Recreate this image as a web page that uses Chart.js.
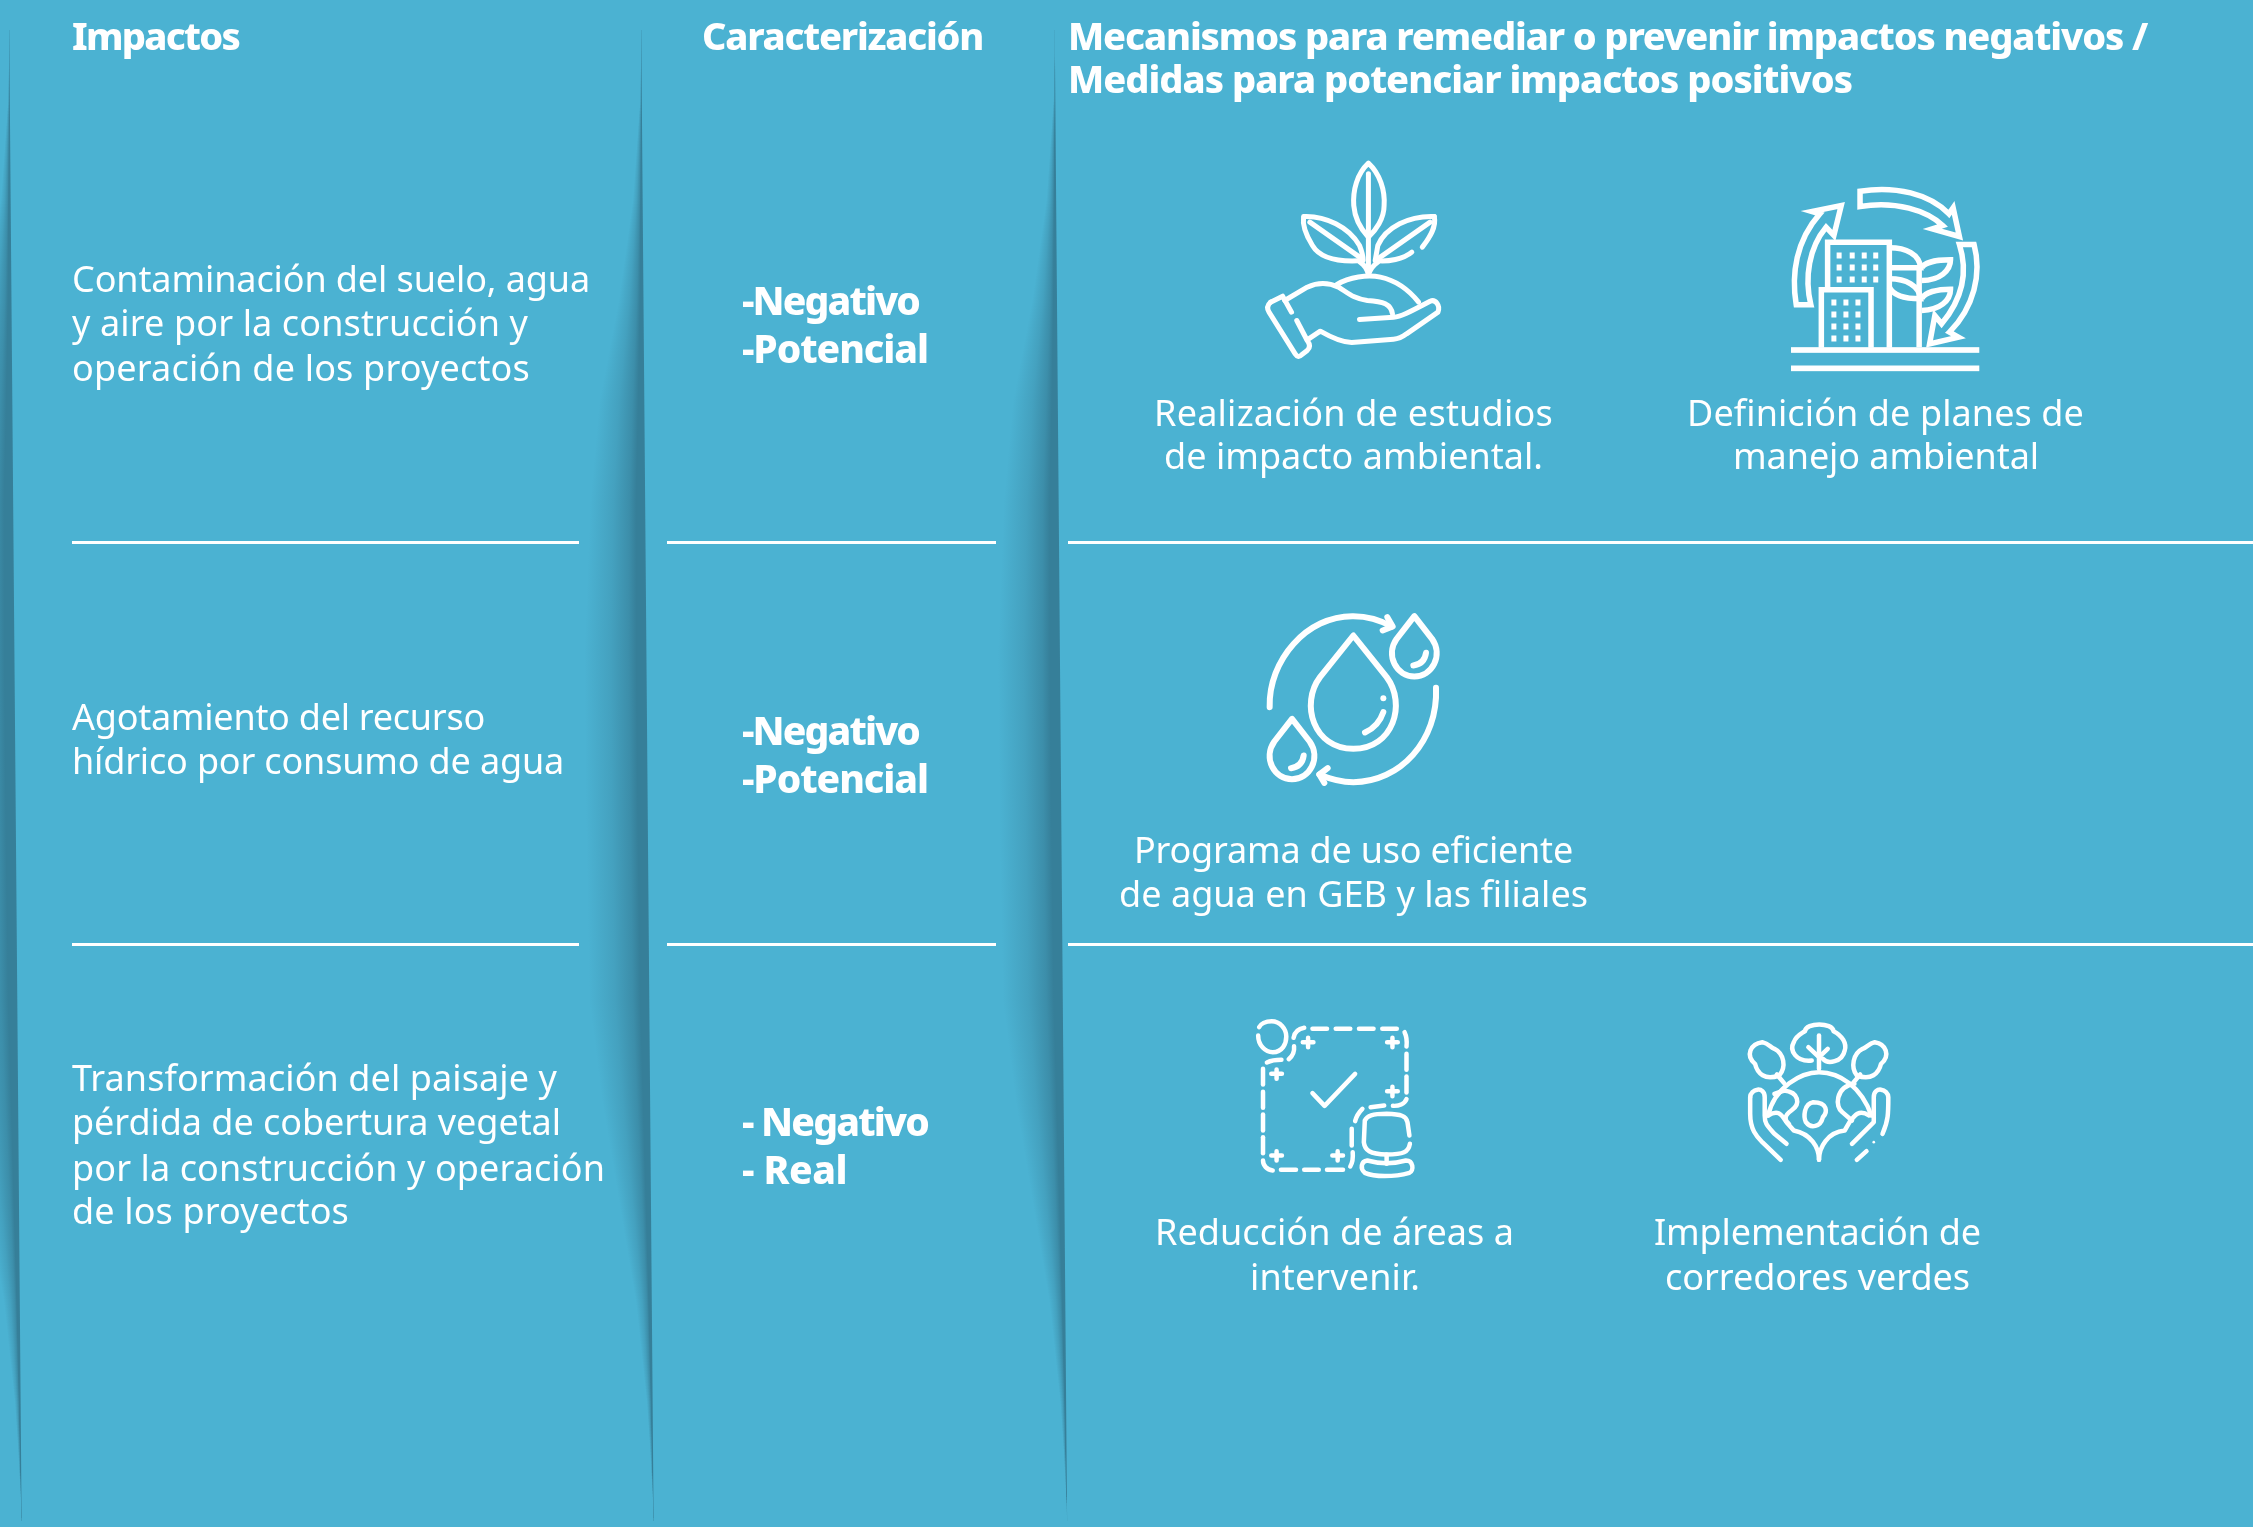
<!DOCTYPE html>
<html lang="es"><head><meta charset="utf-8"><title>Impactos</title>
<style>html,body{margin:0;padding:0;background:#4bb2d2;overflow:hidden}canvas{display:block}</style>
<script src="https://cdn.jsdelivr.net/npm/chart.js@4"></script></head><body>
<canvas id="c" width="2253" height="1527" style="width:2253px;height:1527px"></canvas>
<script>
const headerLabels=["Impactos","Caracterización","Mecanismos para remediar o prevenir impactos negativos /","Medidas para potenciar impactos positivos"];
const impactLabels=["Contaminación del suelo, agua","y aire por la construcción y","operación de los proyectos","Agotamiento del recurso","hídrico por consumo de agua","Transformación del paisaje y","pérdida de cobertura vegetal","por la construcción y operación","de los proyectos"];
const typeLabels=["-Negativo","-Potencial","-Negativo","-Potencial","- Negativo","- Real"];
const measureLabels=["Realización de estudios","de impacto ambiental.","Definición de planes de","manejo ambiental","Programa de uso eficiente","de agua en GEB y las filiales","Reducción de áreas a","intervenir.","Implementación de","corredores verdes"];
const ruleRows=[542.5,944.5];
const ruleSpans=[[72,579],[667,996],[1068,2253]];
// [left, baseline, width]
const headerPlace=[[72,50,167],[702,50,281],[1068,50,1079],[1068,93,784]];
const impactPlace=[[72,291.5,518],[72,336,456],[72,381,458],[72,729.5,413],[72,773.5,492],[72,1090.5,485],[72,1135,489],[72,1180.5,533],[72,1224,277]];
const typePlace=[[742,315,177],[742,363,186],[742,745,177],[742,793,186],[742,1136,186],[742,1184,105]];
const measurePlace=[[1154,425.5,399],[1164,469,379],[1687,425.5,397],[1733,469,306],[1134,862.5,439],[1119,907,469],[1155,1245,359],[1250,1289.5,170],[1654,1245,327],[1665,1289.5,305]];
const foldEdges=[9,641,1054.5];
const foldY=[30,100,200,300,400,500,650,800,1000,1100,1200,1300,1400,1450,1520];
const foldDark=[0,0.5,2,3.5,6,9,10,10,9,7,5,3,1.5,1,0];
const foldSoft=[0,2,10,25,45,55,62,62,60,48,32,16,6,3,0];
const WHITE='#ffffff',BG='#4bb2d2';
const FONT='"Noto Sans"';
function iconMatrix(ox,oy,sx,sy){return new DOMMatrix([1/sx,0,0,1/sy,ox,oy]);}
const iconSets=[
{m:[1200,130.5,1.912,3],w:5,paths:[
"M322,98 C300,130 292,180 294,225 C296,265 310,300 322,320 C336,300 352,265 352,225 C354,180 344,130 322,98 Z",
"M322,130 L322,430","M306,395 C316,405 320,420 322,432","M340,395 C330,405 325,420 322,432",
"M198,258 C240,255 285,290 305,345 C310,365 312,380 312,390 C270,395 230,385 215,345 C205,320 195,290 198,258 Z","M210,275 L310,385",
"M448,258 C400,255 355,290 340,345 L335,390 C360,395 390,385 405,365","M448,258 C452,290 440,320 425,350","M440,275 L340,385",
"M262,462 C285,440 320,432 345,440 C375,450 400,480 418,515",
"M135,515 L158,497 L175,545","M135,515 C128,525 128,535 132,545 L182,670 C186,680 190,680 195,672 L205,660 C212,650 210,640 205,630 L185,570",
"M162,510 L205,470 C225,455 245,455 265,470 C285,490 295,505 320,510 C350,513 365,520 368,550",
"M305,567 L370,560 C385,558 400,545 440,512 C450,505 460,525 455,545 L395,610 C385,622 380,625 370,626 L290,636 C275,636 250,620 230,602 L205,628"]},
{m:[1200,130.5,1.912,3],w:5.5,join:'miter',cap:'butt',paths:[
"M1262,182 C1330,165 1395,190 1432,250 L1440,232 L1452,318 L1400,295 L1420,285 C1390,240 1330,210 1262,228 Z",
"M1140,523 C1130,430 1140,330 1185,250 L1170,243 L1226,225 L1212,315 L1197,290 C1165,350 1155,440 1168,523 Z",
"M1452,342 L1480,342 C1495,430 1480,530 1433,605 L1450,620 L1395,640 L1405,555 L1418,580 C1455,510 1470,430 1452,342 Z",
"M1200,470 L1200,335 L1318,335 L1318,652","M1188,652 L1188,478 L1283,478 L1283,652","M1375,405 L1375,650",
"M1318,352 C1350,352 1375,370 1378,412 L1318,412","M1318,445 C1350,445 1375,465 1378,505 C1350,505 1325,495 1318,470",
"M1380,412 C1385,395 1410,388 1435,388 C1435,420 1415,450 1380,450","M1380,505 C1385,485 1410,476 1435,476 C1435,510 1415,538 1380,540"],
fills:[[1130,650,360,17],[1130,705,360,17]],
grid:[{xs:[1222,1247,1270,1292],ys:[375,411,447]},{xs:[1212,1235,1258],ys:[516,552,588,624]}]},
{m:[1200,580.5,3,3],w:6,paths:[
"M209,380 C205,240 320,105 460,107 C500,107 540,118 575,138","M562,110 L578,138 L548,150",
"M708,322 C715,480 600,605 460,605 C430,605 400,600 358,582","M383,563 L358,582 L373,607",
"M460,165 L360,290 C300,370 340,505 460,505 C580,505 620,370 560,290 Z","M550,395 C540,425 520,445 495,456",
"M643,107 L590,175 C555,225 590,288 643,288 C696,288 731,225 696,175 Z","M678,217 C675,240 660,252 640,255",
"M276,415 L223,483 C188,533 223,596 276,596 C329,596 364,533 329,483 Z","M311,525 C308,548 293,560 273,563"],
dots:[[550,353,9]]},
{m:[1200,1000.5,2.063,3],w:4.5,paths:[
"M120,105 C120,135 135,155 150,155 C170,155 178,130 178,108 C178,85 165,62 148,62 C135,62 125,70 122,80",
"M193,112 C195,95 203,85 215,82","M232,85 L262,85","M280,85 L310,85","M328,85 L358,85","M376,85 L406,85",
"M422,95 C427,110 427,125 426,138","M426,160 L426,208","M426,228 L426,276","M426,296 C422,310 410,317 398,316","M352,320 L380,315","M320,362 C323,345 328,335 335,325",
"M313,385 L313,435","M315,455 C316,470 315,485 310,498","M295,508 L262,508","M245,508 L215,508","M198,508 L167,508","M150,510 C138,508 130,495 130,480",
"M130,458 L130,410","M130,390 L130,342","M130,322 L130,274","M130,252 L130,205","M138,186 C147,180 157,178 168,178","M183,176 C192,165 195,150 194,137",
"M212,125 L234,125 M223,112 L223,140","M386,125 L408,125 M397,112 L397,140","M147,220 L169,220 M158,207 L158,235","M386,272 L408,272 M397,259 L397,287","M147,465 L169,465 M158,452 L158,480","M273,465 L295,465 M284,452 L284,480",
"M232,278 L257,316 L320,220",
"M432,405 L428,365 C425,345 415,342 385,340 C355,340 345,345 340,360 L338,425 C340,450 350,460 385,462 C420,462 430,455 433,430","M385,462 L385,490",
"M345,480 C370,490 400,490 425,480 C440,480 442,510 432,517 C400,530 360,530 340,517 C330,505 332,482 345,480 Z"]},
{m:[1200,1000.5,2.063,3],w:4.5,paths:[
"M1277,205 L1277,105","M1255,140 L1277,170 L1295,145",
"M1262,180 C1230,185 1215,150 1225,125 C1230,105 1240,100 1248,92 C1250,65 1305,65 1307,92 C1325,105 1335,130 1330,150 C1325,185 1295,192 1285,175",
"M1195,225 C1165,240 1150,220 1145,190 C1125,165 1135,130 1160,125 C1175,130 1175,140 1185,145 C1205,160 1210,200 1195,225 Z","M1190,222 L1205,248",
"M1355,225 C1385,240 1400,220 1405,190 C1425,165 1415,130 1392,125 C1378,130 1378,140 1367,145 C1347,160 1342,200 1355,225 Z","M1362,222 L1347,248",
"M1172,345 C1185,260 1240,215 1277,215 C1320,215 1365,260 1385,345",
"M1185,280 L1205,270 C1235,275 1240,310 1220,330 C1205,345 1205,360 1215,370","M1350,250 C1310,260 1310,320 1325,335 L1345,360",
"M1265,305 C1245,310 1245,350 1250,365 C1260,385 1280,380 1285,350 C1295,335 1295,305 1265,305 Z",
"M1135,290 C1135,265 1165,255 1165,290 L1165,345 C1165,370 1170,375 1185,400 L1210,430","M1135,290 L1135,340 C1135,390 1150,410 1160,425 L1198,478",
"M1172,345 C1195,325 1200,345 1210,365 L1225,390 C1260,400 1277,440 1277,478",
"M1408,400 C1420,360 1420,340 1420,290 C1420,265 1390,255 1390,290 L1390,345 L1390,365 L1345,430",
"M1380,345 C1360,325 1350,345 1340,365 L1330,390 C1295,395 1277,440 1277,478","M1375,452 L1355,478"],
dots:[[1390,425,4]]}
];
function interp(xs,ys,x){for(let i=1;i<xs.length;i++){if(x<=xs[i]){const t=(x-xs[i-1])/(xs[i]-xs[i-1]);return ys[i-1]+t*(ys[i]-ys[i-1]);}}return ys[ys.length-1];}
const artPlugin={id:'art',
beforeDatasetsDraw(ch){
 const c=ch.ctx,xs=ch.scales.x,ys=ch.scales.y;
 c.save();c.fillStyle=BG;c.fillRect(0,0,ch.width,ch.height);
 const D='54,127,153';
 foldEdges.forEach(top=>{
  for(let y=30;y<1520;y+=3){
   const edge=top+y*0.0083,w1=interp(foldY,foldDark,y),w2=Math.max(interp(foldY,foldSoft,y),w1+0.5);
   const l=xs.getPixelForValue(edge-w2),r=xs.getPixelForValue(edge);
   const g=c.createLinearGradient(l,0,r,0),p=w1/w2,q=1-p;
   g.addColorStop(0,`rgba(${D},0)`);
   g.addColorStop(q*0.5,`rgba(${D},0.33)`);
   g.addColorStop(q*0.85,`rgba(${D},0.7)`);
   g.addColorStop(q,`rgba(${D},1)`);
   g.addColorStop(1,`rgba(${D},1)`);
   c.fillStyle=g;c.fillRect(l,ys.getPixelForValue(y),r-l,3);
  }
 });
 c.restore();
},
afterDatasetsDraw(ch){
 const c=ch.ctx,xs=ch.scales.x,ys=ch.scales.y;
 c.save();c.fillStyle=WHITE;c.strokeStyle=WHITE;c.textBaseline='alphabetic';c.textAlign='left';
 const put=(labels,place,font)=>{c.font=font;labels.forEach((s,i)=>{const [x,b,w]=place[i];c.letterSpacing='0px';const m=c.measureText(s).width;c.letterSpacing=((w-m)/s.length).toFixed(3)+'px';c.fillText(s,xs.getPixelForValue(x),ys.getPixelForValue(b));});c.letterSpacing='0px';};
 put(headerLabels,headerPlace,'800 38px '+FONT);
 put(typeLabels,typePlace,'800 39px '+FONT);
 put(impactLabels,impactPlace,'400 36px '+FONT);
 put(measureLabels,measurePlace,'400 36px '+FONT);
 iconSets.forEach(s=>{
  const [ox,oy,sx,sy]=s.m,M=iconMatrix(ox,oy,sx,sy);
  c.lineWidth=s.w;c.lineCap=s.cap||'round';c.lineJoin=s.join||'round';
  s.paths.forEach(d=>{const p=new Path2D();p.addPath(new Path2D(d),M);c.stroke(p);});
  (s.fills||[]).forEach(f=>c.fillRect(ox+f[0]/sx,oy+f[1]/sy,f[2]/sx,f[3]/sy));
  (s.grid||[]).forEach(g=>g.ys.forEach(y=>g.xs.forEach(x=>c.fillRect(ox+x/sx-2.5,oy+y/sy-3,5,6))));
  (s.dots||[]).forEach(d=>{c.beginPath();c.arc(ox+d[0]/sx,oy+d[1]/sy,d[2]/sy,0,7);c.fill();});
 });
 c.restore();
}};
const ruleSets=[];
ruleRows.forEach(r=>ruleSpans.forEach(sp=>ruleSets.push({data:sp.map(x=>({x,y:r})),borderColor:WHITE,borderWidth:3,pointRadius:0,showLine:true,fill:false})));
new Chart(document.getElementById('c'),{type:'line',data:{datasets:ruleSets},plugins:[artPlugin],
options:{responsive:false,animation:false,devicePixelRatio:1,layout:{padding:0},
plugins:{legend:{display:false},tooltip:{enabled:false},title:{display:false}},
scales:{x:{type:'linear',min:0,max:2253,display:false},y:{type:'linear',min:0,max:1527,reverse:true,display:false}}}});
</script></body></html>
